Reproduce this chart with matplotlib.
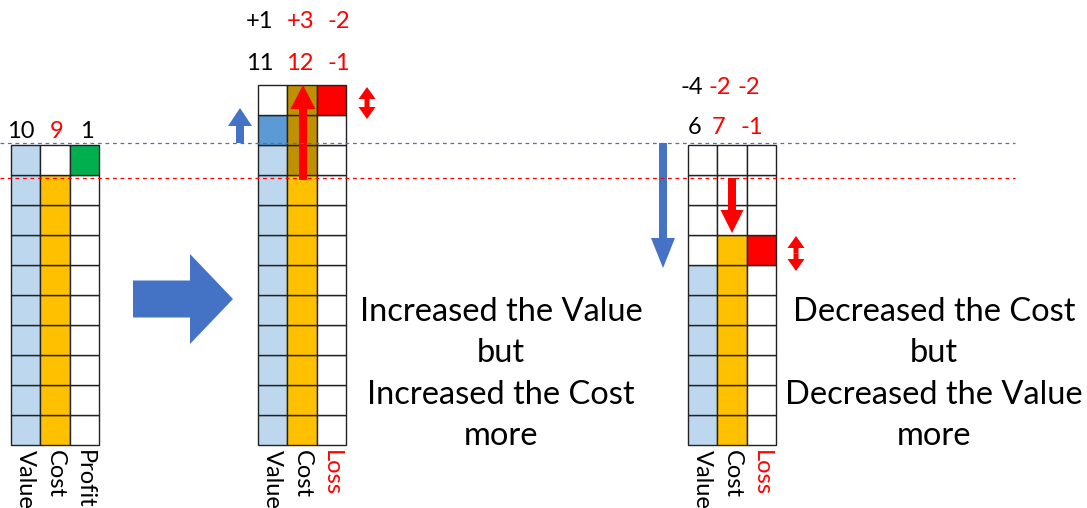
import matplotlib.pyplot as plt
from matplotlib.patches import Rectangle, FancyArrow

# data
panels = ["before", "value up", "cost down"]
values = [10, 11, 6]
costs = [9, 12, 7]
results = [1, -1, -1]
deltas = [None, ("+1", "+3", "-2"), ("-4", "-2", "-2")]
col_labels = [["Value", "Cost", "Profit"], ["Value", "Cost", "Loss"], ["Value", "Cost", "Loss"]]
grid_rows = [10, 12, 10]
captions = ["", "Increased the Value\nbut\nIncreased the Cost\nmore",
            "Decreased the Cost\nbut\nDecreased the Value\nmore"]

LBLUE = "#bdd7ee"
MBLUE = "#5b9bd5"
ORANGE = "#ffc000"
GOLD = "#bf9000"
RED = "#ff0000"
GREEN = "#00b050"
ARROW = "#4472c4"

plt.rcParams['font.family'] = ['Lato', 'DejaVu Sans']

fig = plt.figure(figsize=(10.87, 5.08), dpi=100)
ax = fig.add_axes([0, 0, 1, 1])
ax.set_xlim(0, 1087)
ax.set_ylim(508, 0)
ax.axis("off")

lefts = [11, 258, 688]
# label nudges (pixels) for the hand-placed numbers
num_dx = [[-5, 2, 2], [-13, -2, 7], [-8, -14, -10]]
delta_dx = [None, [-13, -2, 7], [-11, -12, -13]]
num_dy = [13, 22, 18]
delta_gap = [0, 41, 40]
cw = 29.4
rh = 30.0
bottom = 445

base_v, base_c = values[0], costs[0]


def double_arrow(x, y0, y1):
    mid = (y0 + y1) / 2
    for end in (y0, y1):
        ax.add_patch(FancyArrow(x, mid, 0, end - mid, width=5, head_width=17, head_length=12,
                                length_includes_head=True, color=RED, lw=0))


for i in range(3):
    x0 = lefts[i]
    n = grid_rows[i]
    v, c, r = values[i], costs[i], results[i]
    for row in range(n):
        y = bottom - (row + 1) * rh
        k = row + 1
        # value column
        fc = "white"
        if k <= v:
            fc = MBLUE if (i == 1 and k > base_v) else LBLUE
        ax.add_patch(Rectangle((x0, y), cw, rh, fc=fc, ec="#222222", lw=1))
        # cost column
        fc = "white"
        if k <= c:
            fc = GOLD if (i == 1 and k > base_c) else ORANGE
        ax.add_patch(Rectangle((x0 + cw, y), cw, rh, fc=fc, ec="#222222", lw=1))
        # result column
        fc = "white"
        if r > 0 and c < k <= v:
            fc = GREEN
        if r < 0 and v < k <= c:
            fc = RED
        ax.add_patch(Rectangle((x0 + 2 * cw, y), cw, rh, fc=fc, ec="#222222", lw=1))
    top = bottom - n * rh
    # column labels
    for j, lab in enumerate(col_labels[i]):
        colr = RED if lab == "Loss" else "black"
        ax.text(x0 + cw * j + cw / 2, bottom + 5, lab, rotation=-90, ha="center", va="top",
                fontsize=17, color=colr)
    # numbers
    nums = [str(v), str(c), str(r)]
    ncol = ["black", RED, RED if r < 0 else "black"]
    ny = top - num_dy[i]
    for j, s in enumerate(nums):
        ax.text(x0 + cw * j + cw / 2 + num_dx[i][j], ny, s, ha="center", va="center",
                fontsize=17, color=ncol[j])
    if deltas[i]:
        for j, s in enumerate(deltas[i]):
            colr = "black" if j == 0 else RED
            ax.text(x0 + cw * j + cw / 2 + delta_dx[i][j], ny - delta_gap[i], s, ha="center",
                    va="center", fontsize=17, color=colr)

# reference lines
ax.plot([0, 1015], [bottom - base_v * rh - 2, bottom - base_v * rh - 2], ls="--",
        color="#4472c4", lw=0.9, dashes=(3, 3))
ax.plot([0, 1015], [bottom - base_c * rh + 3, bottom - base_c * rh + 3], ls="--",
        color=RED, lw=0.9, dashes=(3, 3))

# big arrow
ax.add_patch(FancyArrow(133, 299, 100, 0, width=37, head_width=90, head_length=43,
                        length_includes_head=True, color=ARROW, lw=0))

# middle panel arrows
ax.add_patch(FancyArrow(240, 143, 0, -35, width=8, head_width=24, head_length=18,
                        length_includes_head=True, color=ARROW, lw=0))
ax.add_patch(FancyArrow(303, 180, 0, -95, width=8, head_width=25, head_length=24,
                        length_includes_head=True, color=RED, lw=0))
double_arrow(367, 87, 119)

# right panel arrows
ax.add_patch(FancyArrow(663, 143, 0, 125, width=8, head_width=24, head_length=30,
                        length_includes_head=True, color=ARROW, lw=0))
ax.add_patch(FancyArrow(732, 178, 0, 55, width=8, head_width=23, head_length=23,
                        length_includes_head=True, color=RED, lw=0))
double_arrow(796, 236, 271)

# captions
ax.text(501, 374, captions[1], ha="center", va="center", fontsize=23.5, linespacing=1.48)
ax.text(934, 374, captions[2], ha="center", va="center", fontsize=23.5, linespacing=1.48)

fig.savefig("out.png", dpi=100)
